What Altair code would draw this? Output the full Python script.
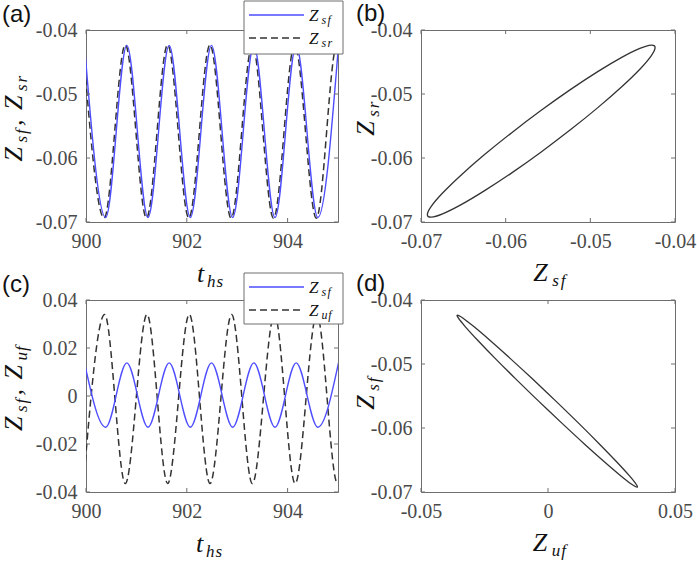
import altair as alt
import pandas as pd

# ---------------- data ----------------
# (a) time series: successive extrema (peak / trough) of each curve
t_sf = [899.97, 900.39, 900.81, 901.23, 901.65, 902.07, 902.49, 902.91,
        903.33, 903.75, 904.17, 904.60, 905.01]
z_sf_a = [-0.0424, -0.0693, -0.0424, -0.0693, -0.0424, -0.0693, -0.0424,
          -0.0693, -0.0424, -0.0693, -0.0424, -0.0693, -0.0424]
t_sr = [899.94, 900.36, 900.78, 901.20, 901.62, 902.04, 902.46, 902.88,
        903.30, 903.72, 904.14, 904.57, 904.98, 905.40]
z_sr_a = [-0.0423, -0.0694, -0.0423, -0.0694, -0.0423, -0.0694, -0.0423,
          -0.0694, -0.0423, -0.0694, -0.0423, -0.0694, -0.0423, -0.0694]

# (c) time series
z_sf_c = [0.0138, -0.0130, 0.0138, -0.0130, 0.0138, -0.0130, 0.0138,
          -0.0130, 0.0138, -0.0130, 0.0138, -0.0130, 0.0138]
t_uf = [899.95, 900.37, 900.78, 901.21, 901.62, 902.05, 902.46, 902.89,
        903.30, 903.74, 904.15, 904.58, 904.99, 905.41]
z_uf_c = [-0.0365, 0.0340, -0.0365, 0.0340, -0.0365, 0.0340, -0.0365,
          0.0340, -0.0365, 0.0340, -0.0365, 0.0340, -0.0365, 0.0340]

# (b) closed orbit Z_sr vs Z_sf (points around the loop)
b_zsf = [-0.04235, -0.04281, -0.04415, -0.04629, -0.04908, -0.05232, -0.05580,
         -0.05928, -0.06253, -0.06531, -0.06745, -0.06879, -0.06925, -0.06879,
         -0.06745, -0.06531, -0.06253, -0.05928, -0.05580, -0.05232, -0.04908,
         -0.04629, -0.04415, -0.04281]
b_zsr = [-0.04275, -0.04235, -0.04287, -0.04427, -0.04646, -0.04928, -0.05255,
         -0.05604, -0.05951, -0.06273, -0.06548, -0.06756, -0.06885, -0.06925,
         -0.06873, -0.06733, -0.06514, -0.06232, -0.05905, -0.05556, -0.05209,
         -0.04887, -0.04613, -0.04404]

# (d) closed orbit Z_sf vs Z_uf
d_zuf = [-0.03564, -0.03531, -0.03261, -0.02769, -0.02092, -0.01273, -0.00370,
         0.00556, 0.01442, 0.02228, 0.02860, 0.03295, 0.03504, 0.03471, 0.03201,
         0.02709, 0.02032, 0.01213, 0.00310, -0.00616, -0.01502, -0.02288,
         -0.02920, -0.03355]
d_zsf = [-0.04235, -0.04281, -0.04415, -0.04629, -0.04908, -0.05232, -0.05580,
         -0.05928, -0.06253, -0.06531, -0.06745, -0.06879, -0.06925, -0.06879,
         -0.06745, -0.06531, -0.06253, -0.05928, -0.05580, -0.05232, -0.04908,
         -0.04629, -0.04415, -0.04281]

# axis ticks
t_ticks = [900, 902, 904]
zs_ticks = [-0.07, -0.06, -0.05, -0.04]
zc_ticks = [-0.04, -0.02, 0, 0.02, 0.04]
zu_ticks = [-0.05, 0, 0.05]

# ---------------- style ----------------
BLUE = "#4d4dff"
DARK = "#333333"
FRAME = "#6e6e6e"
LABEL = "#4a4a4a"
INK = "#111111"
SERIF = "Liberation Serif, Times New Roman, serif"
SANS = "Liberation Sans, Arial, sans-serif"
W1, W2, H = 252, 254, 192
MAIN, SUB, SHIFT = 26, 17, 5
DASH = [7, 4]

# advance (in em) used to space the math letters like a math font
ADV = {"Z": 0.73, "t": 0.38, "s": 0.50, "f": 0.47, "r": 0.47, "u": 0.56,
       "h": 0.56, ",": 0.27, " ": 0.35}


def char_rows(pieces, main, sub, shift):
    """Split pieces (text, is_sub) into single characters with advances."""
    out = []
    for t, s in pieces:
        sz = sub if s else main
        for ch in t:
            out.append((ch, sz, shift if s else 0, ADV.get(ch, 0.5) * sz))
    return out


def math_rows(pieces, anchor, baseline, vertical=False, main=MAIN, sub=SUB, shift=SHIFT):
    chars = char_rows(pieces, main, sub, shift)
    total = sum(c[3] for c in chars)
    rows = []
    if not vertical:
        x = anchor - total / 2
        for ch, sz, sh, adv in chars:
            if ch.strip():
                rows.append(dict(x=x, y=baseline + sh, text=ch, size=sz, angle=0))
            x += adv
    else:
        y = anchor + total / 2
        for ch, sz, sh, adv in chars:
            if ch.strip():
                rows.append(dict(x=baseline + sh, y=y, text=ch, size=sz, angle=270))
            y -= adv
    return rows


def legend_rows(x, ys, labels):
    rows = []
    for yy, lab in zip(ys, labels):
        xx = x
        for ch, sz, sh, adv in char_rows(lab, 17, 12, 3):
            rows.append(dict(x=xx, y=yy + 6 + sh, text=ch, size=sz, angle=0))
            xx += adv
    return rows


def fmt_expr(dec):
    if dec == 0:
        return "format(datum.value, 'd')"
    return ("datum.value == 0 ? '0' : (datum.value < 0 ? '-' : '') + "
            f"format(abs(datum.value), '.{dec}f')")


def axis(values, dec):
    return alt.Axis(values=values, labelExpr=fmt_expr(dec), title=None, domain=False,
                    ticks=False, tickSize=0, grid=False, labelFont=SERIF,
                    labelFontSize=20, labelColor=LABEL, labelPadding=9,
                    labelOverlap=False, labelFlush=False, labelBound=False)


def tick_layers(xvals, yvals, xsc, ysc, xax, yax, w, h, L=4):
    tx = pd.DataFrame({"v": xvals})
    ty = pd.DataFrame({"v": yvals})
    rx = alt.Chart(tx).mark_rule(color=FRAME, strokeWidth=1)
    ry = alt.Chart(ty).mark_rule(color=FRAME, strokeWidth=1)
    X = alt.X("v:Q", scale=xsc, axis=xax)
    Y = alt.Y("v:Q", scale=ysc, axis=yax)
    return [
        rx.encode(x=X, y=alt.value(h), y2=alt.value(h - L)),
        rx.encode(x=X, y=alt.value(0), y2=alt.value(L)),
        ry.encode(y=Y, x=alt.value(0), x2=alt.value(L)),
        ry.encode(y=Y, x=alt.value(w - L), x2=alt.value(w)),
    ]


def text_layer(rows, font, style, color):
    df = pd.DataFrame(rows)
    return alt.Chart(df).mark_text(align="left", baseline="alphabetic", font=font,
                                   fontStyle=style, color=color).encode(
        x=alt.X("x:Q", scale=None),
        y=alt.Y("y:Q", scale=None),
        text="text:N",
        size=alt.Size("size:Q", scale=None, legend=None),
        angle=alt.Angle("angle:Q", scale=None),
    )


def legend_box(x0, x1, y0, y1, lx0, lx1, ys, dash2):
    one = pd.DataFrame({"k": [0]})
    box = alt.Chart(one).mark_rect(fill="white", stroke=FRAME, strokeWidth=1).encode(
        x=alt.value(x0), x2=alt.value(x1), y=alt.value(y0), y2=alt.value(y1))
    l1 = alt.Chart(one).mark_rule(color=BLUE, strokeWidth=1.5).encode(
        x=alt.value(lx0), x2=alt.value(lx1), y=alt.value(ys[0]))
    l2 = alt.Chart(one).mark_rule(color=DARK, strokeWidth=1.5, strokeDash=dash2).encode(
        x=alt.value(lx0), x2=alt.value(lx1), y=alt.value(ys[1]))
    return [box, l1, l2]


def panel_label(x, y, text):
    return text_layer([dict(x=x, y=y, text=text, size=24, angle=0)], SANS, "normal", INK)


Z_SF = [("Z", False), ("sf", True)]
Z_SR = [("Z", False), ("sr", True)]
Z_UF = [("Z", False), ("uf", True)]
T_HS = [("t", False), ("hs", True)]
COMMA = [(", ", False)]

# ---------------- panel (a) ----------------
xs_t = alt.Scale(domain=[900, 905], nice=False, zero=False)
ys_a = alt.Scale(domain=[-0.07, -0.04], nice=False, zero=False)
ax_t = axis(t_ticks, 0)
ax_zs = axis(zs_ticks, 2)
df_a1 = pd.DataFrame({"t": t_sf, "z": z_sf_a})
df_a2 = pd.DataFrame({"t": t_sr, "z": z_sr_a})
a_sf = alt.Chart(df_a1).mark_line(color=BLUE, strokeWidth=1.4, interpolate="monotone", clip=True).encode(
    x=alt.X("t:Q", scale=xs_t, axis=ax_t),
    y=alt.Y("z:Q", scale=ys_a, axis=ax_zs))
a_sr = alt.Chart(df_a2).mark_line(color=DARK, strokeWidth=1.5, strokeDash=DASH, interpolate="monotone", clip=True).encode(
    x=alt.X("t:Q", scale=xs_t, axis=ax_t), y=alt.Y("z:Q", scale=ys_a, axis=ax_zs))
a_text = (math_rows(Z_SF + COMMA + Z_SR, 88, -64, vertical=True)
          + math_rows(T_HS, 125, 252)
          + legend_rows(223, [-15, 8], [Z_SF, Z_SR]))
A = alt.layer(a_sr, a_sf, *tick_layers(t_ticks, zs_ticks, xs_t, ys_a, ax_t, ax_zs, W1, H),
              *legend_box(158, 257, -29, 24, 163, 218, [-15, 8], DASH),
              text_layer(a_text, SERIF, "italic", INK),
              panel_label(-84, -8, "(a)")).properties(width=W1, height=H)

# ---------------- panel (b) ----------------
xs_b = alt.Scale(domain=[-0.07, -0.04], nice=False, zero=False)
ax_zsx = axis(zs_ticks, 2)
df_b = pd.DataFrame({"x": b_zsf, "y": b_zsr, "o": list(range(len(b_zsf)))})
b_line = alt.Chart(df_b).mark_line(color=DARK, strokeWidth=1.3, interpolate="cardinal-closed", clip=True).encode(
    x=alt.X("x:Q", scale=xs_b, axis=ax_zsx),
    y=alt.Y("y:Q", scale=ys_a, axis=ax_zs),
    order="o:Q")
b_text = (math_rows(Z_SR, 88, -47, vertical=True)
          + math_rows(Z_SF, 130, 251))
B = alt.layer(b_line, *tick_layers(zs_ticks, zs_ticks, xs_b, ys_a, ax_zsx, ax_zs, W2, H),
              text_layer(b_text, SERIF, "italic", INK),
              panel_label(-65, -9, "(b)")).properties(width=W2, height=H)

# ---------------- panel (c) ----------------
ys_c = alt.Scale(domain=[-0.04, 0.04], nice=False, zero=False)
ax_zc = axis(zc_ticks, 2)
df_c1 = pd.DataFrame({"t": t_sf, "z": z_sf_c})
df_c2 = pd.DataFrame({"t": t_uf, "z": z_uf_c})
c_sf = alt.Chart(df_c1).mark_line(color=BLUE, strokeWidth=1.4, interpolate="monotone", clip=True).encode(
    x=alt.X("t:Q", scale=xs_t, axis=ax_t),
    y=alt.Y("z:Q", scale=ys_c, axis=ax_zc))
c_uf = alt.Chart(df_c2).mark_line(color=DARK, strokeWidth=1.5, strokeDash=DASH, interpolate="monotone", clip=True).encode(
    x=alt.X("t:Q", scale=xs_t, axis=ax_t), y=alt.Y("z:Q", scale=ys_c, axis=ax_zc))
c_text = (math_rows(Z_SF + COMMA + Z_UF, 87, -64, vertical=True)
          + math_rows(T_HS, 124, 252)
          + legend_rows(223, [-13, 10], [Z_SF, Z_UF]))
C = alt.layer(c_uf, c_sf, *tick_layers(t_ticks, zc_ticks, xs_t, ys_c, ax_t, ax_zc, W1, H),
              *legend_box(158, 257, -27, 24, 163, 218, [-13, 10], DASH),
              text_layer(c_text, SERIF, "italic", INK),
              panel_label(-84, -8, "(c)")).properties(width=W1, height=H)

# ---------------- panel (d) ----------------
xs_d = alt.Scale(domain=[-0.05, 0.05], nice=False, zero=False)
ax_zu = axis(zu_ticks, 2)
df_d = pd.DataFrame({"x": d_zuf, "y": d_zsf, "o": list(range(len(d_zuf)))})
d_line = alt.Chart(df_d).mark_line(color=DARK, strokeWidth=1.3, interpolate="cardinal-closed", clip=True).encode(
    x=alt.X("x:Q", scale=xs_d, axis=ax_zu),
    y=alt.Y("y:Q", scale=ys_a, axis=ax_zs),
    order="o:Q")
d_text = (math_rows(Z_SF, 92, -47, vertical=True)
          + math_rows(Z_UF, 130, 251))
D = alt.layer(d_line, *tick_layers(zu_ticks, zs_ticks, xs_d, ys_a, ax_zu, ax_zs, W2, H),
              text_layer(d_text, SERIF, "italic", INK),
              panel_label(-65, -9, "(d)")).properties(width=W2, height=H)

chart = alt.concat(A, B, C, D, columns=2, spacing={"row": 78, "column": 83},
                   bounds="flush").properties(
    padding={"left": 0, "top": 0, "right": 0, "bottom": 0}, background="white"
).configure_view(stroke=FRAME, strokeWidth=1).configure_axis(
    labelFont=SERIF, labelFontSize=20, labelColor=LABEL)

chart.save("out.html", embed_options={"renderer": "svg", "actions": False})
